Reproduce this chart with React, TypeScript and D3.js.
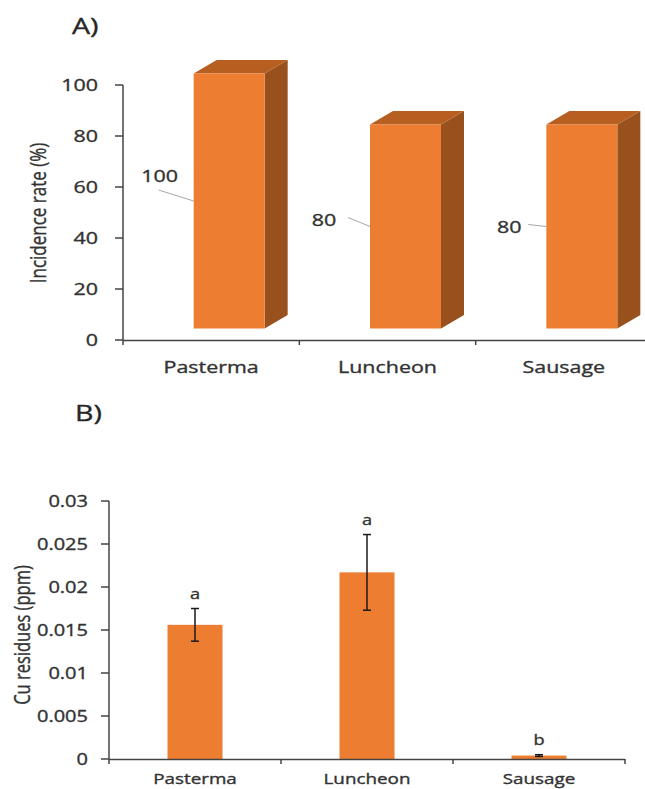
import * as d3 from "d3";

// --- data ---
const categories = ["Pasterma", "Luncheon", "Sausage"];

// panel A: incidence rate (%)
const incidence = [100, 80, 80];
const incidenceTicks = [0, 20, 40, 60, 80, 100];

// panel B: Cu residues (ppm), mean +/- error and significance letters
const cuMean = [0.0156, 0.0217, 0.0004];
const cuErr = [0.0019, 0.0044, 0.0001];
const cuLetters = ["a", "a", "b"];
const cuTicks = [0, 0.005, 0.01, 0.015, 0.02, 0.025, 0.03];
const cuTickLabels = ["0", "0.005", "0.01", "0.015", "0.02", "0.025", "0.03"];

// hand-placed data labels in panel A (offsets from the bar's left mid point)
const labelNudge = [
  { tx: -34, ty: -19, lx: -35, ly: -11 },
  { tx: -46, ty: -1, lx: -22, ly: -9 },
  { tx: -37, ty: 6, lx: -18, ly: -2 },
];

const W = 645;
const H = 789;
const SX = 1.3; // the source picture is stretched horizontally
const FONT = "'Open Sans', 'Noto Sans', sans-serif";
const INK = "#333333";
const AXIS = "#444444";
const ORANGE = "#ED7D31";
const ORANGE_TOP = "#b75f20";
const ORANGE_SIDE = "#98501c";

function T({ x, y, size, anchor = "middle", children, fill = INK }: any) {
  return (
    <text
      transform={`translate(${x},${y}) scale(${SX},1)`}
      fontSize={size}
      textAnchor={anchor}
      fill={fill}
      stroke={fill}
      strokeWidth={0.35}
      fontFamily={FONT}
    >
      {children}
    </text>
  );
}

function YTitle({ x, y, size, children }: any) {
  return (
    <text
      transform={`translate(${x},${y}) scale(${SX},1) rotate(-90)`}
      dy="0.35em"
      fontSize={size}
      textAnchor="middle"
      fill={INK}
      stroke={INK}
      strokeWidth={0.3}
      fontFamily={FONT}
    >
      {children}
    </text>
  );
}

function PanelA() {
  const x = d3.scaleBand().domain(categories).range([123, 652]);
  const y = d3.scaleLinear().domain([0, 100]).range([340, 85]);
  const shift = -11.5; // front face sits above the floor
  const dx = 23;
  const dy = -13.5;
  const w = 71;
  const edges = [...categories.map((c) => x(c)!), x.range()[1]];

  return (
    <g>
      <T x={72} y={34} size={22} anchor="start" fill="#262626">A)</T>

      {/* bars */}
      {categories.map((c, i) => {
        const cx = x(c)! + x.bandwidth() / 2;
        const x0 = cx - 17.5;
        const yT = y(incidence[i]) + shift;
        const yB = y(0) + shift;
        const top = [[x0, yT], [x0 + dx, yT + dy], [x0 + w + dx, yT + dy], [x0 + w, yT]];
        const side = [[x0 + w, yT], [x0 + w + dx, yT + dy], [x0 + w + dx, yB + dy], [x0 + w, yB]];
        const midY = (yT + yB) / 2;
        const n = labelNudge[i];
        return (
          <g key={c}>
            <polygon points={side.join(" ")} fill={ORANGE_SIDE} />
            <polygon points={top.join(" ")} fill={ORANGE_TOP} />
            <rect x={x0} y={yT} width={w} height={yB - yT} fill={ORANGE} />
            <line x1={x0 + n.lx} y1={midY + n.ly} x2={x0} y2={midY} stroke="#a6a6a6" strokeWidth={1} />
            <T x={x0 + n.tx} y={midY + n.ty} size={16.5}>{incidence[i]}</T>
          </g>
        );
      })}

      {/* y axis */}
      <line x1={123} x2={123} y1={y(100)} y2={y(0)} stroke={AXIS} strokeWidth={1.5} />
      {incidenceTicks.map((t) => (
        <g key={t}>
          <line x1={115} x2={123} y1={y(t)} y2={y(t)} stroke={AXIS} strokeWidth={1.5} />
          <T x={98} y={y(t) + 6} size={16.5} anchor="end">{t}</T>
        </g>
      ))}
      <YTitle x={38} y={213} size={17}>Incidence rate (%)</YTitle>

      {/* x axis */}
      <line x1={123} x2={W} y1={y(0) + 0.5} y2={y(0) + 0.5} stroke={AXIS} strokeWidth={1.5} />
      {edges.map((e, i) => (
        <line key={i} x1={e} x2={e} y1={y(0)} y2={y(0) + 5} stroke={AXIS} strokeWidth={1.5} />
      ))}
      {categories.map((c) => (
        <T key={c} x={x(c)! + x.bandwidth() / 2} y={373} size={16.5}>{c}</T>
      ))}
    </g>
  );
}

function PanelB() {
  const x = d3.scaleBand().domain(categories).range([109, 625]);
  const y = d3.scaleLinear().domain([0, 0.03]).range([759, 501]);
  const bw = 55;
  const edges = [...categories.map((c) => x(c)!), x.range()[1]];

  return (
    <g>
      <T x={75} y={421} size={22} anchor="start" fill="#262626">B)</T>

      {categories.map((c, i) => {
        const cx = x(c)! + x.bandwidth() / 2;
        const hi = y(cuMean[i] + cuErr[i]);
        const lo = y(cuMean[i] - cuErr[i]);
        return (
          <g key={c}>
            <rect x={cx - bw / 2} y={y(cuMean[i])} width={bw} height={y(0) - y(cuMean[i])} fill={ORANGE} />
            <line x1={cx} x2={cx} y1={hi} y2={lo} stroke="#1a1a1a" strokeWidth={1.5} />
            <line x1={cx - 4} x2={cx + 4} y1={hi} y2={hi} stroke="#1a1a1a" strokeWidth={1.5} />
            <line x1={cx - 4} x2={cx + 4} y1={lo} y2={lo} stroke="#1a1a1a" strokeWidth={1.5} />
            <T x={cx} y={hi - 10} size={14}>{cuLetters[i]}</T>
          </g>
        );
      })}

      {/* y axis */}
      <line x1={109} x2={109} y1={y(0.03)} y2={y(0)} stroke={AXIS} strokeWidth={1.5} />
      {cuTicks.map((t, i) => (
        <g key={t}>
          <line x1={101} x2={109} y1={y(t)} y2={y(t)} stroke={AXIS} strokeWidth={1.5} />
          <T x={88} y={y(t) + 5.5} size={15.4} anchor="end">{cuTickLabels[i]}</T>
        </g>
      ))}
      <YTitle x={22} y={635} size={16.5}>Cu residues (ppm)</YTitle>

      {/* x axis */}
      <line x1={109} x2={625} y1={y(0) + 0.5} y2={y(0) + 0.5} stroke={AXIS} strokeWidth={1.5} />
      {edges.map((e, i) => (
        <line key={i} x1={e} x2={e} y1={y(0)} y2={y(0) + 5} stroke={AXIS} strokeWidth={1.5} />
      ))}
      {categories.map((c) => (
        <T key={c} x={x(c)! + x.bandwidth() / 2} y={784} size={14.5}>{c}</T>
      ))}
    </g>
  );
}

export default function App() {
  return (
    <svg
      width={W}
      height={H}
      style={{ position: "absolute", left: 0, top: 0, background: "#fff" }}
    >
      <PanelA />
      <PanelB />
    </svg>
  );
}
